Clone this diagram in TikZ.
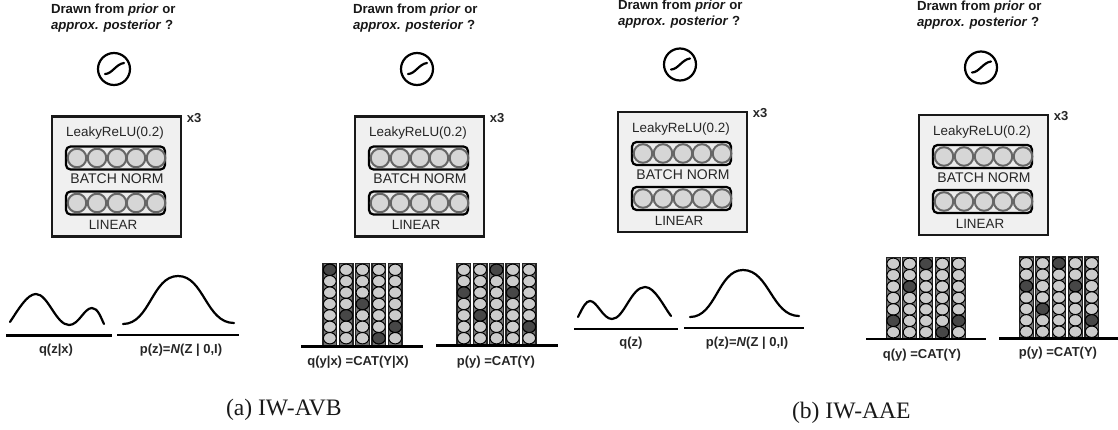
\documentclass[tikz,border=0pt]{standalone}
\usepackage{fontspec}
\setmainfont{Liberation Sans}
\newfontfamily\capfont{Liberation Serif}
\tikzset{
  x=1pt,y=-1pt,
  every node/.style={inner sep=0pt,outer sep=0pt},
  hdr/.style={font=\fontsize{13.2}{16}\selectfont\bfseries,anchor=base west,align=left,text=black!90},
  lab/.style={font=\fontsize{13.4}{15}\selectfont,text=black!85,anchor=center},
  blab/.style={font=\fontsize{13}{15}\selectfont\bfseries,text=black!85,anchor=center},
  captext/.style={font=\fontsize{23.6}{26}\selectfont\capfont,text=black!90,anchor=base west},
  outerbox/.style={draw=black!90,fill=black!6,line width=2.5pt},
  innerbox/.style={draw=black,fill=black!8,line width=2.2pt,rounded corners=4.5pt},
  unitdot/.style={draw=black!60,fill=black!16,line width=2pt},
  baseline rule/.style={draw=black,line width=2.6pt},
  distcurve/.style={draw=black,line width=2.2pt,line cap=round},
  cell/.style={draw=black,fill=black!20,line width=1pt},
  hotcell/.style={draw=black,fill=black!72,line width=1pt}
}
% #1 prefix, #2 dx, #3 dy of block, #4 text x, #5 text baseline y
\newcommand{\netblock}[5]{%
  \node[hdr] (#1h) at (#4,#5) {Drawn from \textit{prior} or};
  \node[hdr] (#1i) at (#4,#5+16) {\textit{approx. posterior} ?};
  \begin{scope}[shift={(#2,#3)}]
    \node[draw=black,line width=2.2pt,circle,minimum size=32pt] (#1s) at (114,69) {};
    \draw[line width=2.2pt,line cap=round] (105,74) .. controls (112,74) and (116,64) .. (124,63);
    \node[outerbox,minimum width=129pt,minimum height=120pt] (#1o) at (116.5,176.5) {};
    \node[blab] (#1x) at (194,118) {x3};
    \node[lab] (#1l) at (115,133.5) {LeakyReLU(0.2)};
    \foreach \yy/\nn in {158/a,203/b}{
      \node[innerbox,minimum width=99pt,minimum height=23pt] (#1\nn) at (115.5,\yy) {};
      \foreach \xx in {77,97,117,136,156}
        \draw[unitdot] (\xx,\yy) circle (9.3);
    }
    \node[lab,font=\fontsize{14}{15}\selectfont] (#1n) at (117,179) {BATCH NORM};
    \node[lab] (#1t) at (113,225) {LINEAR};
  \end{scope}
}
% #1 left x, #2 top y, #3 list of hot col/row
\newcommand{\catgrid}[3]{%
  \foreach \c in {0,...,4}{
    \pgfmathsetmacro{\lx}{#1+16.35*\c}
    \fill[black!55,draw=black!85,line width=1.2pt] (\lx,#2) rectangle ++(13.6,82);
    \foreach \r in {0,...,6}
      \draw[cell] (\lx+6.8,#2+6.3+11.4*\r) ellipse (6.4 and 5.7);
  }
  \foreach \c/\r in {#3}
    \draw[hotcell] (#1+6.8+16.35*\c,#2+6.3+11.4*\r) ellipse (6.4 and 5.7);
}
\begin{document}
\begin{tikzpicture}
\useasboundingbox (0,0) rectangle (1118,430);
\netblock{p}{0}{0}{51}{13.5}
\netblock{r}{303}{0}{353}{13.5}
\netblock{s}{566}{-4.5}{618}{10}
\netblock{t}{867}{-1.5}{917}{10.5}

% panel a
\draw[distcurve] (10,322) .. controls (18,310) and (27,294) .. (36,294) .. controls (48,294) and (56,325) .. (69,325) .. controls (79,325) and (84,308) .. (92,308) .. controls (98,308) and (101,318) .. (104,324);
\draw[distcurve] (123,324) .. controls (150,324) and (152,276) .. (178,276) .. controls (204,276) and (206,323) .. (234,323);
\draw[baseline rule] (6,335.5) -- (112,335.5);
\draw[baseline rule] (117,335) -- (239,335);
\node[blab] (qa) at (56,350.5) {q(z|x)};
\node[blab] (pa) at (181,350.5) {p(z)=\textit{N}(Z | 0,I)};

% panel a2
\catgrid{323}{263.5}{0/0,1/4,2/3,3/6,4/5}
\catgrid{457}{263.5}{0/2,1/4,2/0,3/2,4/5}
\draw[baseline rule] (301,346.5) -- (423,346.5);
\draw[baseline rule] (436,345.5) -- (558,345.5);
\node[blab] (qb) at (358,362) {q(y|x) =CAT(Y|X)};
\node[blab] (pb) at (496,362) {p(y) =CAT(Y)};

% panel b
\draw[distcurve] (578,317) .. controls (583,307) and (586,301) .. (590,301) .. controls (597,301) and (603,319) .. (612,319) .. controls (624,319) and (631,287) .. (645,287) .. controls (655,287) and (664,307) .. (671,316);
\draw[distcurve] (690,317) .. controls (716,317) and (718,270) .. (743,270) .. controls (769,270) and (772,316) .. (799,316);
\draw[baseline rule] (574,329) -- (678,329);
\draw[baseline rule] (684,328) -- (804,328);
\node[blab] (qc) at (631,343) {q(z)};
\node[blab] (pc) at (747,343) {p(z)=\textit{N}(Z | 0,I)};

% panel b2
\catgrid{886.5}{257.5}{0/5,1/2,2/0,3/6,4/5}
\catgrid{1019.5}{257}{0/2,1/4,2/0,3/2,4/5}
\draw[baseline rule] (866,339) -- (986,339);
\draw[baseline rule] (999,338.5) -- (1118,338.5);
\node[blab] (qd) at (922,355) {q(y) =CAT(Y)};
\node[blab] (pd) at (1058,353) {p(y) =CAT(Y)};

\node[captext] (ca) at (226,415) {(a) IW-AVB};
\node[captext] (cb) at (792,418) {(b) IW-AAE};
\end{tikzpicture}
\end{document}
